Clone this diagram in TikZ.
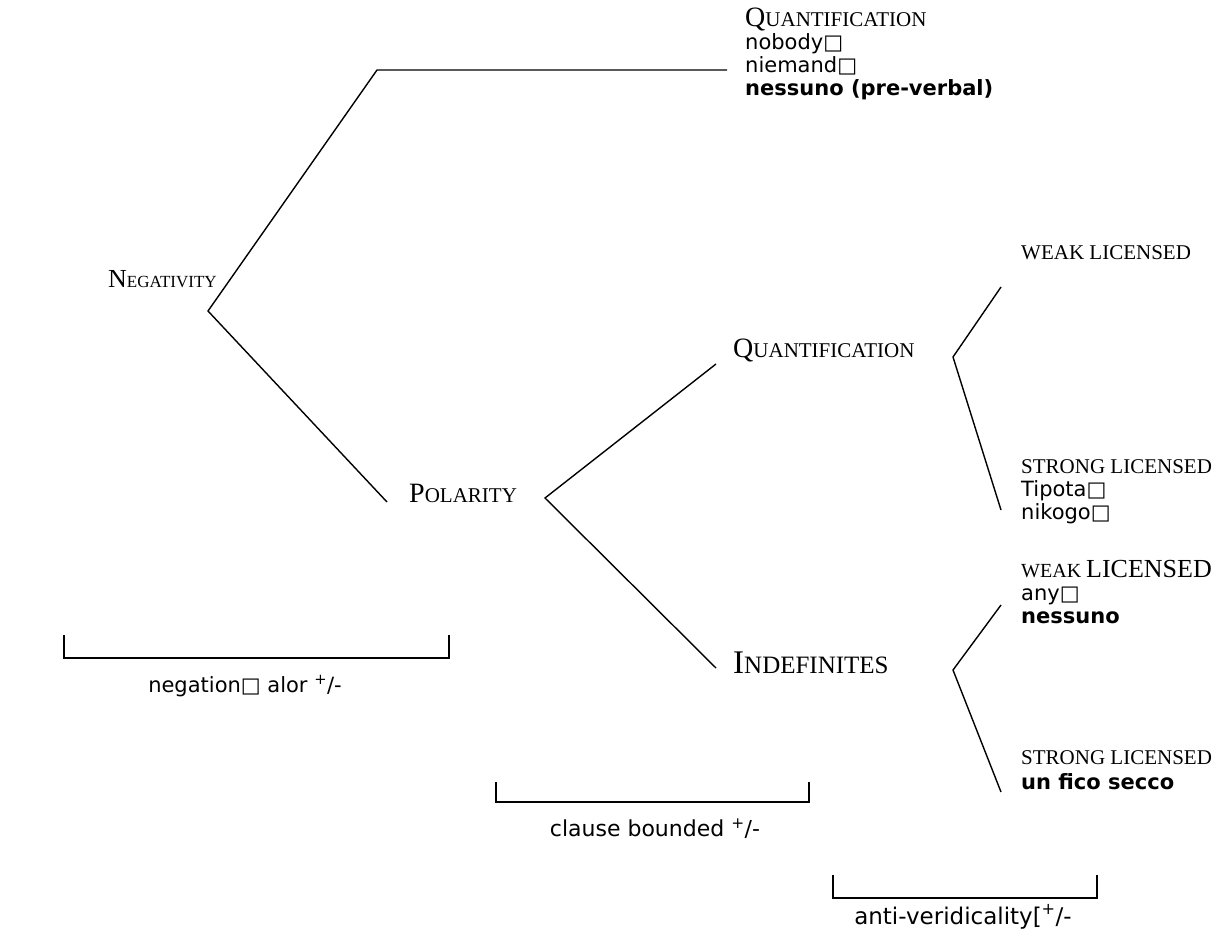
\documentclass[tikz,border=0pt]{standalone}
\usepackage{fontspec}
\setmainfont{DejaVu Sans}
\newfontfamily\catfont{Liberation Serif}
\usetikzlibrary{positioning}

% word-style small capitals: first letter at #1, the rest at #2
\newcommand{\smcap}[4]{{\catfont\fontsize{#1}{#1}\selectfont #3\fontsize{#2}{#2}\selectfont #4}}
\newcommand{\sqbox}{\symbol{"25A1}}

\begin{document}
\begin{tikzpicture}[
    x=1pt, y=-1pt,
    txt/.style={inner sep=0pt, anchor=base west, align=left, font=\fontsize{21}{23}\selectfont},
    cat/.style={inner sep=0pt, anchor=base west},
    brlabel/.style={inner sep=0pt, anchor=base, font=\fontsize{21}{23}\selectfont},
    branch/.style={line width=1.4pt},
    bracket/.style={line width=2pt}
]
\useasboundingbox (0,0) rectangle (1217,932);

% categories (a multi-line node sits on the baseline of its last line)
\node[cat] (neg) at (108,287) {\smcap{26}{17}{N}{EGATIVITY}};
\node[txt] (quantTop) at (745,95) {\smcap{28}{21}{Q}{UANTIFICATION}\\nobody\sqbox\\niemand\sqbox\\\textbf{nessuno (pre-verbal)}};
\node[cat] (pol) at (409,502) {\smcap{28}{21}{P}{OLARITY}};
\node[cat] (quant) at (733,357) {\smcap{28}{21}{Q}{UANTIFICATION}};
\node[cat] (indef) at (733,673) {\smcap{33}{25}{I}{NDEFINITES}};
\node[cat] (weakTop) at (1021,259) {\smcap{21}{21}{}{WEAK LICENSED}};
\node[txt] (strong) at (1021,519) {\smcap{21}{21}{}{STRONG LICENSED}\\Tipota\sqbox\\nikogo\sqbox};
\node[txt] (weak) at (1021,623) {\smcap{20}{20}{}{WEAK }{\catfont\fontsize{26}{26}\selectfont LICENSED}\\any\sqbox\\\textbf{nessuno}};
\node[txt] (strongLow) at (1021,789) {\smcap{21}{21}{}{STRONG LICENSED}\\[2pt]\textbf{un fico secco}};

% branching points
\coordinate (negV) at (208,311);
\coordinate (topBend) at (377,70);
\coordinate (topEnd) at (727,70);
\coordinate (polIn) at (387,502);
\coordinate (polV) at (545,498);
\coordinate (quantIn) at (716,364);
\coordinate (indefIn) at (716,668);
\coordinate (quantV) at (953,357);
\coordinate (weakTopIn) at (1001,287);
\coordinate (strongIn) at (1001,510);
\coordinate (indefV) at (953,670);
\coordinate (weakIn) at (1001,605);
\coordinate (strongLowIn) at (1001,792);

\draw[branch] (topEnd) -- (topBend) -- (negV) -- (polIn);
\draw[branch] (quantIn) -- (polV) -- (indefIn);
\draw[branch] (weakTopIn) -- (quantV) -- (strongIn);
\draw[branch] (weakIn) -- (indefV) -- (strongLowIn);

% scope brackets
\draw[bracket] (64,635) -- (64,658) -- (449,658) -- (449,635);
\node[brlabel] (negScope) at (245,692) {negation\sqbox{} alor \textsuperscript{+}/-};
\draw[bracket] (496,782) -- (496,802) -- (809,802) -- (809,782);
\node[brlabel, font=\fontsize{22}{23}\selectfont] (clauseScope) at (655,836) {clause bounded \textsuperscript{+}/-};
\draw[bracket] (833,875) -- (833,898) -- (1097,898) -- (1097,875);
\node[brlabel, font=\fontsize{23}{24}\selectfont] (antiScope) at (963,924) {anti-veridicality[\textsuperscript{+}/-};
\end{tikzpicture}
\end{document}
